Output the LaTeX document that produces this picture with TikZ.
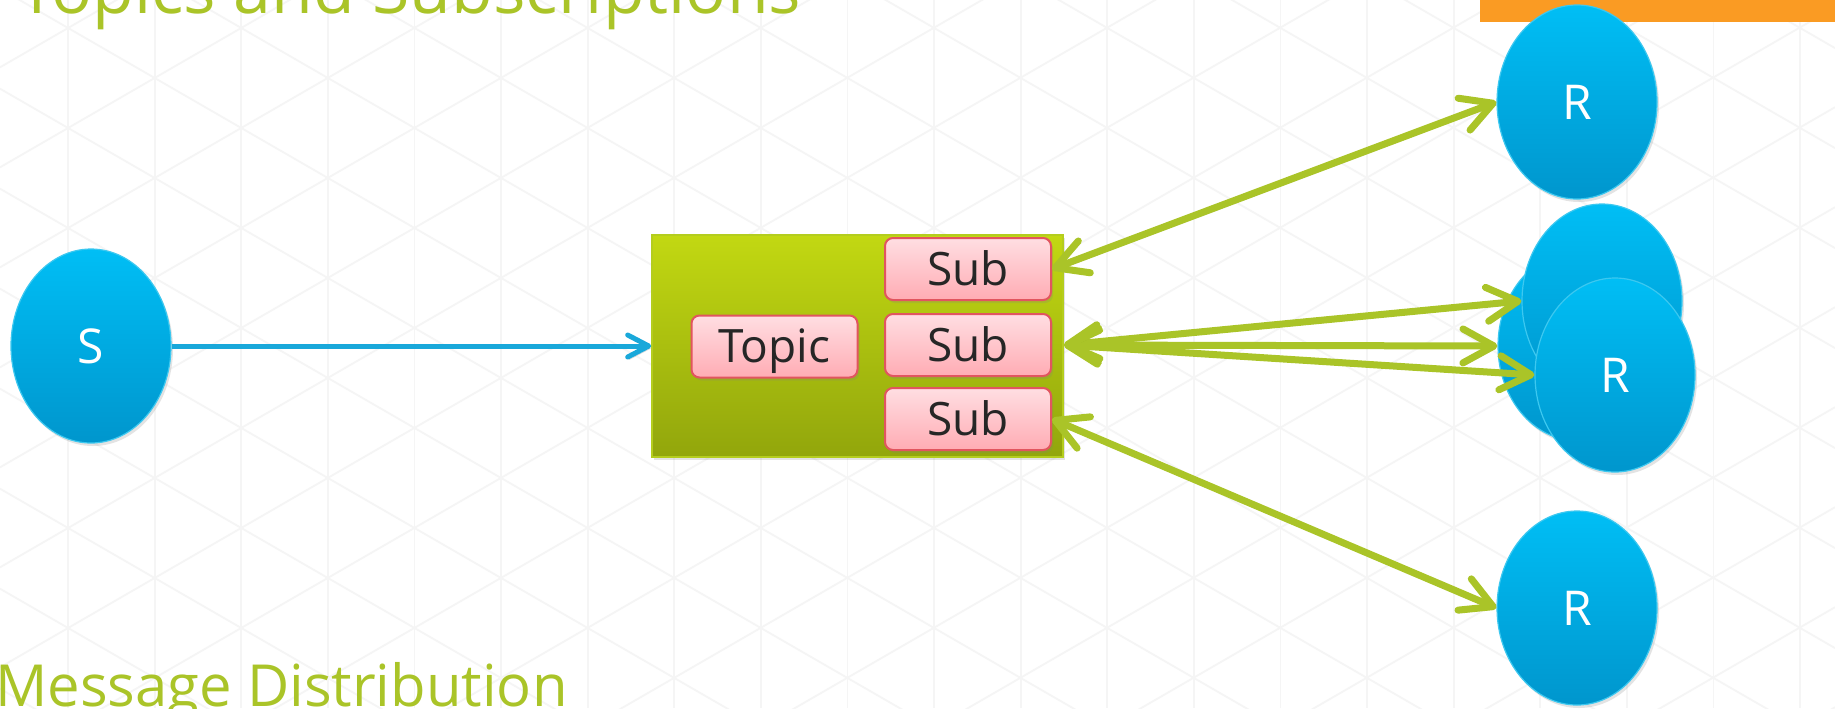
\documentclass[tikz,border=0pt]{standalone}
\usepackage{fontspec}
\setmainfont{Open Sans}
\usetikzlibrary{arrows.meta,shapes.geometric,shadows}
\definecolor{leaf}{RGB}{170,196,40}
\definecolor{skyA}{RGB}{0,190,245}
\definecolor{skyB}{RGB}{0,150,205}
\definecolor{skyE}{RGB}{60,200,240}
\definecolor{boxA}{RGB}{194,216,18}
\definecolor{boxB}{RGB}{146,166,12}
\definecolor{boxE}{RGB}{180,205,30}
\definecolor{pinkA}{RGB}{255,222,226}
\definecolor{pinkB}{RGB}{255,172,180}
\definecolor{pinkE}{RGB}{225,85,95}
\definecolor{inkgray}{RGB}{38,38,38}
\definecolor{flowblue}{RGB}{25,168,218}
\definecolor{barorange}{RGB}{250,155,35}
\definecolor{gridgray}{RGB}{245,245,245}
\begin{document}
\begin{tikzpicture}[x=0.5pt,y=-0.5pt,
  gridline/.style={gridgray, line width=0.9pt},
  softshadow/.style={drop shadow={shadow xshift=1pt, shadow yshift=-1.5pt, opacity=0.22}},
  bubble/.style={ellipse, minimum width=80pt, minimum height=97pt, inner sep=0pt,
    top color=skyA, bottom color=skyB, draw=skyE, line width=0.6pt, text=white,
    font=\fontsize{24pt}{28pt}\selectfont, text height=17pt, text depth=0pt, softshadow},
  greenbox/.style={rectangle, minimum width=205.5pt, minimum height=111pt, inner sep=0pt,
    top color=boxA, bottom color=boxB, draw=boxE, line width=0.8pt, softshadow},
  pill/.style={rectangle, rounded corners=4pt, minimum width=83pt, minimum height=31pt, inner sep=0pt,
    top color=pinkA, bottom color=pinkB, draw=pinkE, line width=1pt, text=inkgray,
    font=\fontsize{23pt}{27pt}\selectfont, text height=16.4pt, text depth=0pt, softshadow},
  headline/.style={inner sep=0pt, text=leaf, anchor=base west},
  flow/.style={flowblue, line width=2.5pt, -{Straight Barb[length=10.5pt,width=11pt,round]},
    preaction={draw=black, draw opacity=0.15, transform canvas={xshift=0.8pt,yshift=-1.2pt}}},
  link/.style={leaf, line width=3.5pt, line cap=round,
    {Straight Barb[length=15.5pt,width=17pt,round]}-{Straight Barb[length=15.5pt,width=17pt,round]},
    preaction={draw=black, draw opacity=0.15, transform canvas={xshift=0.8pt,yshift=-1.2pt}}}
]
\useasboundingbox (0,0) rectangle (1835,708);
\fill[white] (0,0) rectangle (1835,708);
% background lattice
\begin{scope}
\clip (0,0) rectangle (1835,708);
\foreach \k in {0,...,20} \draw[gridline] ({68.1+86.603*\k},0) -- ({68.1+86.603*\k},708);
\foreach \m in {-11,...,18} {
  \draw[gridline] (0,{-11.32+100*\m}) -- (1835,{1048.1+100*\m});
  \draw[gridline] (0,{67.32+100*\m}) -- (1835,{-992.8+100*\m});
}
\end{scope}
% headings
\node[headline, font=\fontsize{34pt}{40pt}\selectfont] (title) at (18,13) {Topics and Subscriptions};
\node[headline, font=\fontsize{29pt}{35pt}\selectfont] (subtitle) at (-5,706) {Message Distribution};
% orange bar
\node[rectangle, fill=barorange, inner sep=0pt, minimum width=177.5pt, minimum height=10.85pt, anchor=north west] (bar) at (1480,0) {};
% sender and topic
\node[bubble] (src) at (91,346) {S};
\node[greenbox] (topicbox) at (857.5,346) {};
\node[pill] (topic) at (774.5,346.5) {Topic};
\node[pill] (s1) at (968,269) {Sub};
\node[pill] (s2) at (968,345) {Sub};
\node[pill] (s3) at (968,419) {Sub};
% receivers
\node[bubble] (r1) at (1577,102) {R};
\node[bubble, minimum height=95pt] (r2b) at (1578,346) {};
\node[bubble] (r2a) at (1602,301) {};
\node[bubble] (r2c) at (1615,375) {R};
\node[bubble] (r3) at (1577,608) {R};
% connectors
\draw[flow] (src.east) -- (topicbox.west);
\draw[link] (s1.east) -- (r1.west);
\draw[link] ([xshift=6pt]s2.east) -- (r2a.west);
\draw[link] ([xshift=6pt]s2.east) -- (r2b.west);
\draw[link] ([xshift=6pt]s2.east) -- (r2c.west);
\draw[link] (s3.east) -- (r3.west);
\end{tikzpicture}
\end{document}
